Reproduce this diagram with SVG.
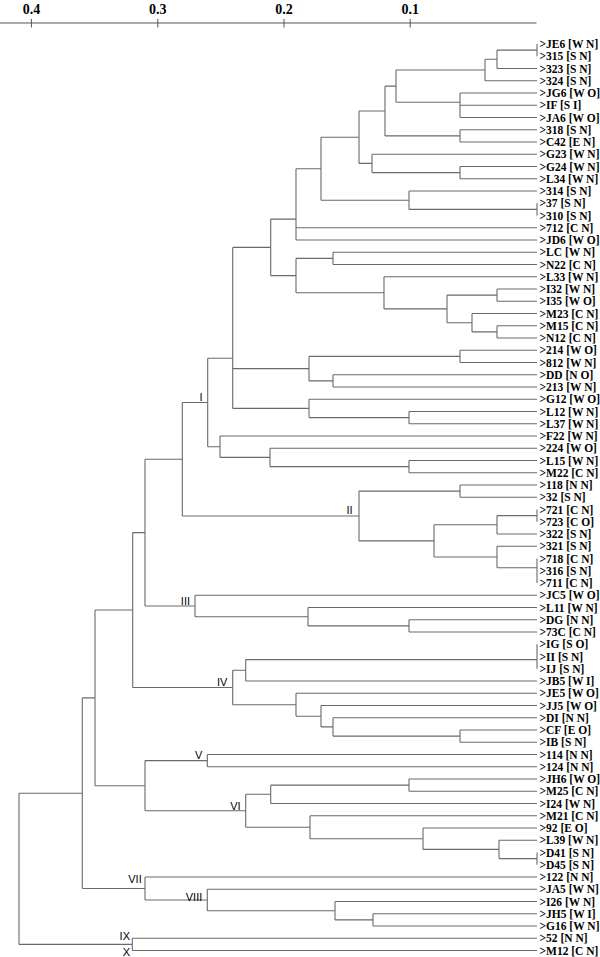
<svg xmlns="http://www.w3.org/2000/svg" width="600" height="957" viewBox="0 0 600 957">
<style>
.ax{stroke:#555;stroke-width:1;fill:none}
.tk{font-family:"Liberation Serif",serif;font-weight:bold;font-size:14px;fill:#000;text-anchor:middle}
.br{stroke:#6a6a6a;stroke-width:1.1;fill:none}
.lf{font-family:"Liberation Serif",serif;font-weight:bold;font-size:11.5px;fill:#000}
.cl{font-family:"Liberation Sans",Arial,sans-serif;font-size:11px;fill:#000;text-anchor:end}
</style>
<rect width="600" height="957" fill="#fff"/>
<g id="axis">
<path class="ax" d="M0 23H536.5M31.4 19V27.5M157.8 19V27.5M284 19V27.5M410.2 19V27.5"/>
<text class="tk" x="31.4" y="14">0.4</text>
<text class="tk" x="157.8" y="14">0.3</text>
<text class="tk" x="284" y="14">0.2</text>
<text class="tk" x="410.2" y="14">0.1</text>
</g>
<g id="connectors" class="br">
<path d="M537 44V56.25"/>
<path d="M497 50.1V68.5M497 50.1H537M497 68.5H537"/>
<path d="M485 59.3V80.75M485 59.3H497M485 80.75H537"/>
<path d="M460 93V117.5M460 93H537M460 105.25H537M460 117.5H537"/>
<path d="M396 70V102.2M396 70H485M396 102.2H460"/>
<path d="M460 129.75V142M460 129.75H537M460 142H537"/>
<path d="M385 86.1V135.9M385 86.1H396M385 135.9H460"/>
<path d="M460 166.5V178.75M460 166.5H537M460 178.75H537"/>
<path d="M372 154.25V172.6M372 154.25H537M372 172.6H460"/>
<path d="M359 111V163.4M359 111H385M359 163.4H372"/>
<path d="M537 203.25V215.5"/>
<path d="M409 191V209.4M409 191H537M409 209.4H537"/>
<path d="M321 137.2V200.2M321 137.2H359M321 200.2H409"/>
<path d="M296 168.7V240M296 168.7H321M296 227.75H537M296 240H537"/>
<path d="M333 252.25V264.5M333 252.25H537M333 264.5H537"/>
<path d="M497 289V301.25M497 289H537M497 301.25H537"/>
<path d="M497 325.75V338M497 325.75H537M497 338H537"/>
<path d="M472 313.5V331.9M472 313.5H537M472 331.9H497"/>
<path d="M447 295.1V322.7M447 295.1H497M447 322.7H472"/>
<path d="M384 276.75V308.9M384 276.75H537M384 308.9H447"/>
<path d="M296 258.4V292.8M296 258.4H333M296 292.8H384"/>
<path d="M270.7 219.1V275.6M270.7 219.1H296M270.7 275.6H296"/>
<path d="M460 350.25V362.5M460 350.25H537M460 362.5H537"/>
<path d="M333 374.75V387M333 374.75H537M333 387H537"/>
<path d="M309 356.4V380.9M309 356.4H460M309 380.9H333"/>
<path d="M409 411.5V423.75M409 411.5H537M409 423.75H537"/>
<path d="M309 399.25V417.6M309 399.25H537M309 417.6H409"/>
<path d="M232.7 247.4V408.4M232.7 247.4H270.7M232.7 368.6H309M232.7 408.4H309"/>
<path d="M409 460.5V472.75M409 460.5H537M409 472.75H537"/>
<path d="M270 448.25V466.6M270 448.25H537M270 466.6H409"/>
<path d="M220 436V457.4M220 436H537M220 457.4H270"/>
<path d="M207.7 358.2V446.7M207.7 358.2H232.7M207.7 446.7H220"/>
<path d="M460 485V497.25M460 485H537M460 497.25H537"/>
<path d="M537 509.5V521.75"/>
<path d="M497 515.6V534M497 515.6H537M497 534H537"/>
<path d="M537 558.5V583"/>
<path d="M497 546.25V567.7M497 546.25H537M497 567.7H537"/>
<path d="M434 524.8V557M434 524.8H497M434 557H497"/>
<path d="M359 491.1V540.9M359 491.1H460M359 540.9H434"/>
<path d="M182.3 402.5V516M182.3 402.5H207.7M182.3 516H359"/>
<path d="M409 619.75V632M409 619.75H537M409 632H537"/>
<path d="M308 607.5V625.9M308 607.5H537M308 625.9H409"/>
<path d="M195 595.25V616.7M195 595.25H537M195 616.7H308"/>
<path d="M145 459.2V606M145 459.2H182.3M145 606H195"/>
<path d="M537 644.25V668.75"/>
<path d="M245.7 659.6V681M245.7 659.6H537M245.7 681H537"/>
<path d="M460 730V742.25M460 730H537M460 742.25H537"/>
<path d="M333 717.75V736.1M333 717.75H537M333 736.1H460"/>
<path d="M321 705.5V726.9M321 705.5H537M321 726.9H333"/>
<path d="M296 693.25V716.2M296 693.25H537M296 716.2H321"/>
<path d="M232.7 670.3V704.7M232.7 670.3H245.7M232.7 704.7H296"/>
<path d="M132.7 532.6V687.5M132.7 532.6H145M132.7 687.5H232.7"/>
<path d="M207.3 754.5V766.75M207.3 754.5H537M207.3 766.75H537"/>
<path d="M409 779V791.25M409 779H537M409 791.25H537"/>
<path d="M270.7 785.1V803.5M270.7 785.1H409M270.7 803.5H537"/>
<path d="M537 852.5V864.75"/>
<path d="M499 840.25V858.6M499 840.25H537M499 858.6H537"/>
<path d="M423 828V849.4M423 828H537M423 849.4H499"/>
<path d="M310 815.75V838.7M310 815.75H537M310 838.7H423"/>
<path d="M245.7 794.3V827.2M245.7 794.3H270.7M245.7 827.2H310"/>
<path d="M145 760.6V810.8M145 760.6H207.3M145 810.8H245.7"/>
<path d="M95 610V785.7M95 610H132.7M95 785.7H145"/>
<path d="M373 913.75V926M373 913.75H537M373 926H537"/>
<path d="M335 901.5V919.9M335 901.5H537M335 919.9H373"/>
<path d="M207.3 889.25V910.7M207.3 889.25H537M207.3 910.7H335"/>
<path d="M145 877V900M145 877H537M145 900H207.3"/>
<path d="M82.3 697.9V888.5M82.3 697.9H95M82.3 888.5H145"/>
<path d="M132.3 938.25V950.5M132.3 938.25H537M132.3 950.5H537"/>
<path d="M19 793.2V944.4M19 793.2H82.3M19 944.4H132.3"/>
</g>
<g id="clusters" class="cl">
<g id="cl-I"><text x="202.5" y="400.5">I</text></g>
<g id="cl-II"><text x="352.7" y="514">II</text></g>
<g id="cl-III"><text x="190" y="604.5">III</text></g>
<g id="cl-IV"><text x="227.3" y="686.3">IV</text></g>
<g id="cl-V"><text x="202.3" y="759">V</text></g>
<g id="cl-VI"><text x="240.7" y="810">VI</text></g>
<g id="cl-VII"><text x="141.7" y="883">VII</text></g>
<g id="cl-VIII"><text x="202.3" y="900.5">VIII</text></g>
<g id="cl-IX"><text x="130" y="940">IX</text></g>
<g id="cl-X"><text x="130" y="955.5">X</text></g>
</g>
<g id="leaves" class="lf">
<g id="n-JE6"><text x="539.5" y="48">&gt;JE6 [W N]</text></g>
<g id="n-315"><text x="539.5" y="60.25">&gt;315 [S N]</text></g>
<g id="n-323"><text x="539.5" y="72.5">&gt;323 [S N]</text></g>
<g id="n-324"><text x="539.5" y="84.75">&gt;324 [S N]</text></g>
<g id="n-JG6"><text x="539.5" y="97">&gt;JG6 [W O]</text></g>
<g id="n-IF"><text x="539.5" y="109.25">&gt;IF [S I]</text></g>
<g id="n-JA6"><text x="539.5" y="121.5">&gt;JA6 [W O]</text></g>
<g id="n-318"><text x="539.5" y="133.75">&gt;318 [S N]</text></g>
<g id="n-C42"><text x="539.5" y="146">&gt;C42 [E N]</text></g>
<g id="n-G23"><text x="539.5" y="158.25">&gt;G23 [W N]</text></g>
<g id="n-G24"><text x="539.5" y="170.5">&gt;G24 [W N]</text></g>
<g id="n-L34"><text x="539.5" y="182.75">&gt;L34 [W N]</text></g>
<g id="n-314"><text x="539.5" y="195">&gt;314 [S N]</text></g>
<g id="n-37"><text x="539.5" y="207.25">&gt;37 [S N]</text></g>
<g id="n-310"><text x="539.5" y="219.5">&gt;310 [S N]</text></g>
<g id="n-712"><text x="539.5" y="231.75">&gt;712 [C N]</text></g>
<g id="n-JD6"><text x="539.5" y="244">&gt;JD6 [W O]</text></g>
<g id="n-LC"><text x="539.5" y="256.25">&gt;LC [W N]</text></g>
<g id="n-N22"><text x="539.5" y="268.5">&gt;N22 [C N]</text></g>
<g id="n-L33"><text x="539.5" y="280.75">&gt;L33 [W N]</text></g>
<g id="n-I32"><text x="539.5" y="293">&gt;I32 [W N]</text></g>
<g id="n-I35"><text x="539.5" y="305.25">&gt;I35 [W O]</text></g>
<g id="n-M23"><text x="539.5" y="317.5">&gt;M23 [C N]</text></g>
<g id="n-M15"><text x="539.5" y="329.75">&gt;M15 [C N]</text></g>
<g id="n-N12"><text x="539.5" y="342">&gt;N12 [C N]</text></g>
<g id="n-214"><text x="539.5" y="354.25">&gt;214 [W O]</text></g>
<g id="n-812"><text x="539.5" y="366.5">&gt;812 [W N]</text></g>
<g id="n-DD"><text x="539.5" y="378.75">&gt;DD [N O]</text></g>
<g id="n-213"><text x="539.5" y="391">&gt;213 [W N]</text></g>
<g id="n-G12"><text x="539.5" y="403.25">&gt;G12 [W O]</text></g>
<g id="n-L12"><text x="539.5" y="415.5">&gt;L12 [W N]</text></g>
<g id="n-L37"><text x="539.5" y="427.75">&gt;L37 [W N]</text></g>
<g id="n-F22"><text x="539.5" y="440">&gt;F22 [W N]</text></g>
<g id="n-224"><text x="539.5" y="452.25">&gt;224 [W O]</text></g>
<g id="n-L15"><text x="539.5" y="464.5">&gt;L15 [W N]</text></g>
<g id="n-M22"><text x="539.5" y="476.75">&gt;M22 [C N]</text></g>
<g id="n-118"><text x="539.5" y="489">&gt;118 [N N]</text></g>
<g id="n-32"><text x="539.5" y="501.25">&gt;32 [S N]</text></g>
<g id="n-721"><text x="539.5" y="513.5">&gt;721 [C N]</text></g>
<g id="n-723"><text x="539.5" y="525.75">&gt;723 [C O]</text></g>
<g id="n-322"><text x="539.5" y="538">&gt;322 [S N]</text></g>
<g id="n-321"><text x="539.5" y="550.25">&gt;321 [S N]</text></g>
<g id="n-718"><text x="539.5" y="562.5">&gt;718 [C N]</text></g>
<g id="n-316"><text x="539.5" y="574.75">&gt;316 [S N]</text></g>
<g id="n-711"><text x="539.5" y="587">&gt;711 [C N]</text></g>
<g id="n-JC5"><text x="539.5" y="599.25">&gt;JC5 [W O]</text></g>
<g id="n-L11"><text x="539.5" y="611.5">&gt;L11 [W N]</text></g>
<g id="n-DG"><text x="539.5" y="623.75">&gt;DG [N N]</text></g>
<g id="n-73C"><text x="539.5" y="636">&gt;73C [C N]</text></g>
<g id="n-IG"><text x="539.5" y="648.25">&gt;IG [S O]</text></g>
<g id="n-II"><text x="539.5" y="660.5">&gt;II [S N]</text></g>
<g id="n-IJ"><text x="539.5" y="672.75">&gt;IJ [S N]</text></g>
<g id="n-JB5"><text x="539.5" y="685">&gt;JB5 [W I]</text></g>
<g id="n-JE5"><text x="539.5" y="697.25">&gt;JE5 [W O]</text></g>
<g id="n-JJ5"><text x="539.5" y="709.5">&gt;JJ5 [W O]</text></g>
<g id="n-DI"><text x="539.5" y="721.75">&gt;DI [N N]</text></g>
<g id="n-CF"><text x="539.5" y="734">&gt;CF [E O]</text></g>
<g id="n-IB"><text x="539.5" y="746.25">&gt;IB [S N]</text></g>
<g id="n-114"><text x="539.5" y="758.5">&gt;114 [N N]</text></g>
<g id="n-124"><text x="539.5" y="770.75">&gt;124 [N N]</text></g>
<g id="n-JH6"><text x="539.5" y="783">&gt;JH6 [W O]</text></g>
<g id="n-M25"><text x="539.5" y="795.25">&gt;M25 [C N]</text></g>
<g id="n-I24"><text x="539.5" y="807.5">&gt;I24 [W N]</text></g>
<g id="n-M21"><text x="539.5" y="819.75">&gt;M21 [C N]</text></g>
<g id="n-92"><text x="539.5" y="832">&gt;92 [E O]</text></g>
<g id="n-L39"><text x="539.5" y="844.25">&gt;L39 [W N]</text></g>
<g id="n-D41"><text x="539.5" y="856.5">&gt;D41 [S N]</text></g>
<g id="n-D45"><text x="539.5" y="868.75">&gt;D45 [S N]</text></g>
<g id="n-122"><text x="539.5" y="881">&gt;122 [N N]</text></g>
<g id="n-JA5"><text x="539.5" y="893.25">&gt;JA5 [W N]</text></g>
<g id="n-I26"><text x="539.5" y="905.5">&gt;I26 [W N]</text></g>
<g id="n-JH5"><text x="539.5" y="917.75">&gt;JH5 [W I]</text></g>
<g id="n-G16"><text x="539.5" y="930">&gt;G16 [W N]</text></g>
<g id="n-52"><text x="539.5" y="942.25">&gt;52 [N N]</text></g>
<g id="n-M12"><text x="539.5" y="954.5">&gt;M12 [C N]</text></g>
</g>
</svg>
